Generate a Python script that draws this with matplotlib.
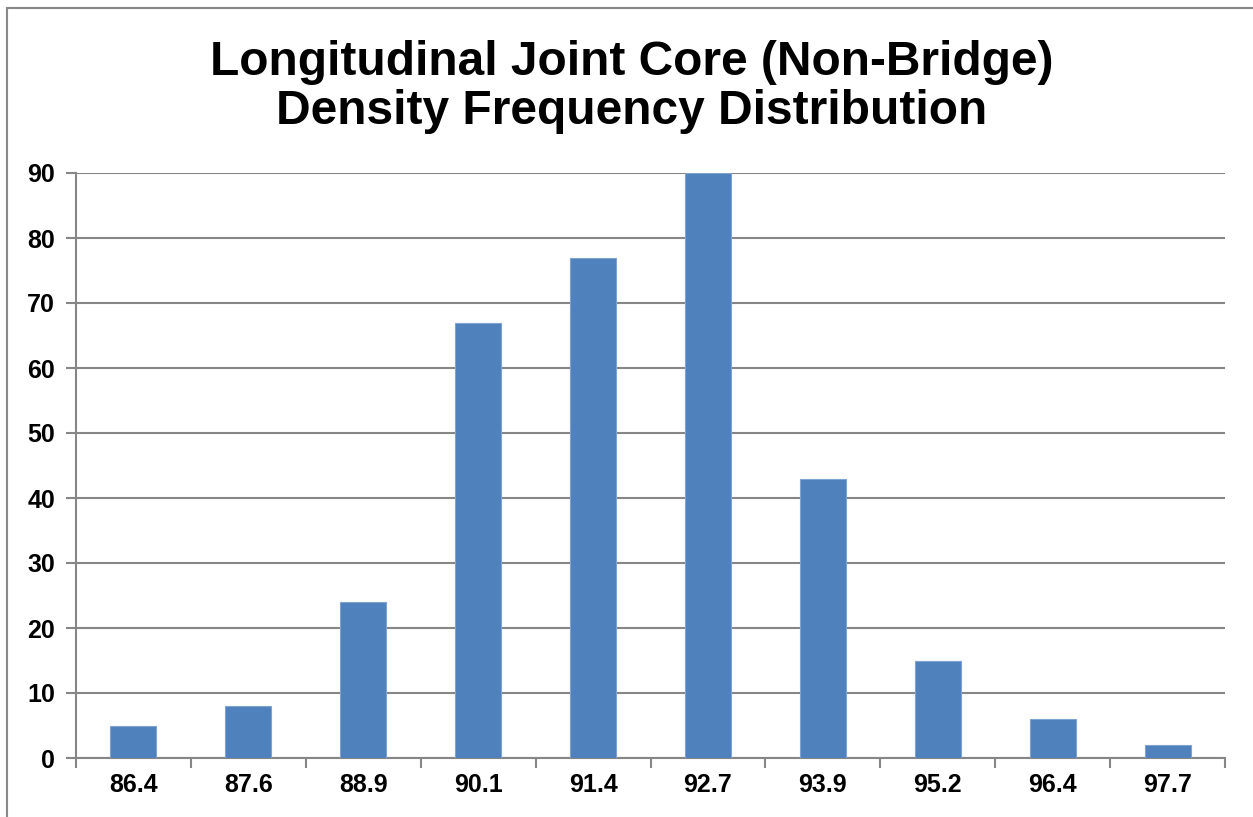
import matplotlib
matplotlib.use("Agg")
import matplotlib.pyplot as plt
from matplotlib.patches import Rectangle
import numpy as np

categories = ["86.4", "87.6", "88.9", "90.1", "91.4", "92.7", "93.9", "95.2", "96.4", "97.7"]
counts = [5, 8, 24, 67, 77, 90, 43, 15, 6, 2]
yticks = list(range(0, 100, 10))

plt.rcParams['font.family'] = ['Liberation Sans', 'DejaVu Sans']

W, H = 1253, 817
fig = plt.figure(figsize=(W/100, H/100), dpi=100)
fig.patch.set_facecolor('white')

# outer frame
fig.patches.append(Rectangle((7/W, -0.1), 1.2, (H-8)/H + 0.1, transform=fig.transFigure,
                             fill=False, edgecolor='#888888', linewidth=1.5))

left, right, top, bottom = 76, 1225, 173, 758
ax = fig.add_axes([left/W, 1-bottom/H, (right-left)/W, (bottom-top)/H])

x = np.arange(len(categories))
ax.bar(x, counts, width=0.4, color='#4F81BD', edgecolor='#7FA3D3', linewidth=0.8, zorder=3)

ax.set_xlim(-0.5, len(categories)-0.5)
ax.set_ylim(0, 90)
ax.set_yticks(yticks)
ax.set_yticklabels([str(v) for v in yticks], fontsize=18, fontweight='bold')
ax.set_xticks(x)
ax.set_xticklabels(categories, fontsize=18, fontweight='bold')
ax.set_xticks(np.arange(-0.5, len(categories)), minor=True)
ax.tick_params(axis='x', which='major', length=0, pad=11)
ax.tick_params(axis='x', which='minor', length=7, color='#868686', width=1.5, direction='out')
ax.tick_params(axis='y', length=7, color='#868686', width=1.5, pad=8)

ax.grid(axis='y', color='#868686', linewidth=1.5, zorder=0)
for s in ['top', 'right']:
    ax.spines[s].set_visible(False)
for s in ['left', 'bottom']:
    ax.spines[s].set_color('#868686')
    ax.spines[s].set_linewidth(1.5)

fig.text(632/W, 1-87/H, "Longitudinal Joint Core (Non-Bridge)\nDensity Frequency Distribution",
         ha='center', va='center', fontsize=34.5, fontweight='bold', linespacing=1.12)

fig.savefig("out.png", dpi=100)
